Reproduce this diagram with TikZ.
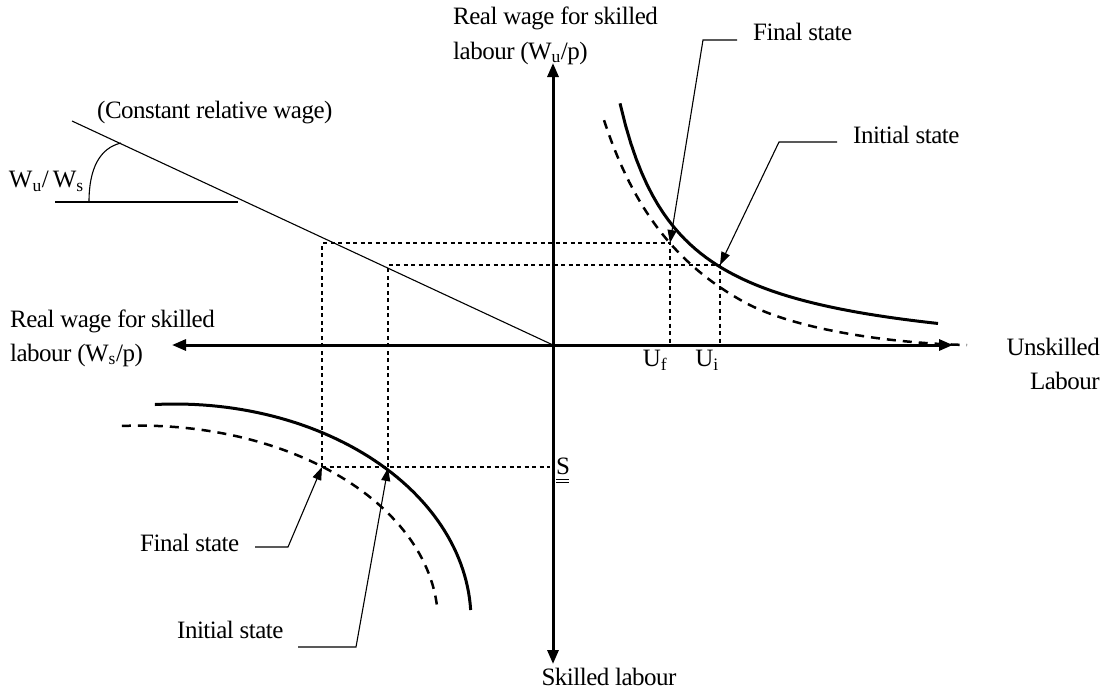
\documentclass[tikz,border=0pt]{standalone}
\usepackage{fontspec}
\setmainfont{Liberation Serif}[LetterSpace=-2]
\usetikzlibrary{arrows.meta}
\begin{document}
\begin{tikzpicture}[x=1pt,y=-1pt,
 lbl/.style={font=\fontsize{25}{29}\selectfont, inner sep=0pt},
 axisline/.style={line width=3pt, -{Triangle[length=14pt,width=11pt]}},
 thinline/.style={line width=1.1pt},
 lead/.style={line width=1.1pt, -{Triangle[length=13pt,width=9pt]}},
 dotl/.style={line width=2pt, dash pattern=on 4pt off 3.5pt},
 curve/.style={line width=3pt},
 dcurve/.style={line width=2.5pt, dash pattern=on 9pt off 7pt},
]
\useasboundingbox (0,0) rectangle (1112,689);
% axes
\coordinate (O) at (553,345);
\coordinate (ytop) at (553,63);
\coordinate (ybot) at (553,664);
\coordinate (xl) at (172,345);
\coordinate (xr) at (953,345);
\draw[axisline] (O) -- (ytop);
\draw[axisline] (O) -- (ybot);
\draw[axisline] (O) -- (xl);
\draw[axisline] (O) -- (xr);
% constant relative wage
\coordinate (cl) at (72,121);
\draw[thinline] (cl) -- (O);
\draw[thinline] (55,202) -- (238,202);
\draw[thinline] (89,202) .. controls (89,168) and (100,148) .. (121,143);
% dotted guides
\coordinate (Pf1) at (670,243);
\coordinate (Pi1) at (720,265);
\coordinate (Pf2) at (322,467);
\coordinate (Pi2) at (388,468);
\draw[dotl] (Pf2) -- (322,243) -- (Pf1) -- (670,345);
\draw[dotl] (388,467) -- (388,265) -- (Pi1) -- (720,345);
\draw[dotl] (Pf2) -- (550,467);
% curves (upper right)
\draw[curve] plot[domain=620:938, samples=60] (\x, {365-157/((\x-560)/100)});
\draw[dcurve] plot[domain=604:745, samples=40] (\x, {437-329.5/((\x-500)/100)})
   .. controls (790,327.2) and (880,343) .. (967,345);
% curves (lower left)
\draw[curve] plot[domain=93.9:2.65, samples=60] ({175+296*cos(\x)}, {620-216*sin(\x)});
\draw[dcurve] plot[domain=93.5:3.5, samples=60] ({140+298*cos(\x)}, {622-196.4*sin(\x)});
% labels
\node[lbl, anchor=west] (yl1) at (453,18) {Real wage for skilled};
\node[lbl, anchor=west] (yl2) at (453,53) {labour (W\textsubscript{u}/p)};
\node[lbl, anchor=west] (xl1) at (10,321) {Real wage for skilled};
\node[lbl, anchor=west] (xl2) at (10,355) {labour (W\textsubscript{s}/p)};
\node[lbl, anchor=east] (xr1) at (1100,347) {Unskilled};
\node[lbl, anchor=east] (xr2) at (1100,381) {Labour};
\node[lbl] (yb) at (609,677) {Skilled labour};
\node[lbl, anchor=west] (crw) at (97,113) {(Constant relative wage)};
\node[lbl, anchor=east] (ratio) at (84,181) {\addfontfeatures{LetterSpace=-5}W\textsubscript{u}/\,W\textsubscript{s}};
\node[lbl] (uf) at (655,360) {U\textsubscript{f}};
\node[lbl] (ui) at (707,360) {U\textsubscript{i}};
\node[lbl, anchor=west] (S) at (556,466) {S};
\draw[line width=0.8pt] (556,479) -- (569,479);
\draw[line width=0.8pt] (556,482) -- (569,482);
\node[lbl, anchor=west] (fs1) at (753,32) {Final state};
\node[lbl, anchor=west] (is1) at (853,135) {Initial state};
\node[lbl, anchor=west] (fs2) at (140,543) {Final state};
\node[lbl, anchor=west] (is2) at (177,630) {Initial state};
% leaders
\draw[lead] (737,40) -- (703,40) -- (Pf1);
\draw[lead] (837,142) -- (779,142) -- (Pi1);
\draw[lead] (255,547) -- (288,547) -- (Pf2);
\draw[lead] (298,647) -- (356,647) -- (Pi2);
\end{tikzpicture}
\end{document}
